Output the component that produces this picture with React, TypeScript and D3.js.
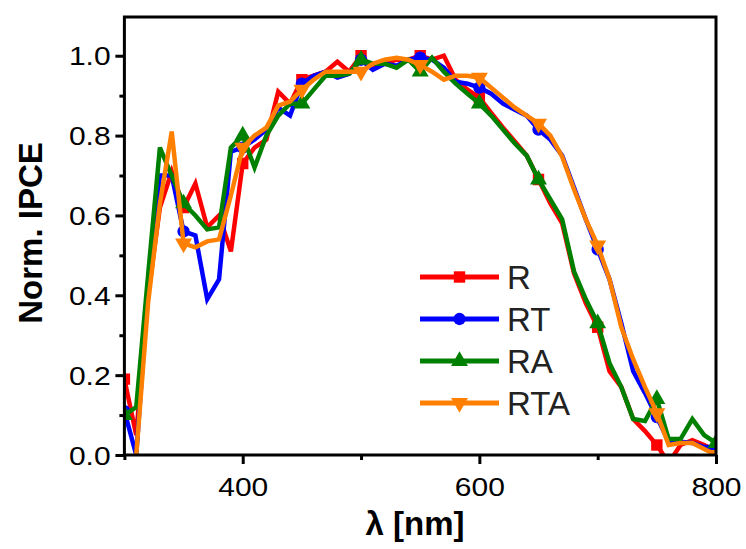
import React, { useRef, useEffect } from "react";
import * as d3 from "d3";

// wavelength grid (nm)
const lambda = [
  300, 310, 320, 330, 340, 350, 360, 370, 380, 390, 400, 410, 420, 430, 440, 450, 460,
  470, 480, 490, 500, 510, 520, 530, 540, 550, 560, 570, 580, 590, 600, 610, 620, 630,
  640, 650, 660, 670, 680, 690, 700, 710, 720, 730, 740, 750, 760, 770, 780, 790, 800,
];

const ipceR = [
  0.19, 0.05, 0.4, 0.62, 0.71, 0.62, 0.68, 0.57, 0.6, 0.51, 0.73, 0.77, 0.79, 0.91, 0.88,
  0.94, 0.95, 0.96, 0.985, 0.96, 1.0, 0.97, 0.98, 0.99, 0.99, 1.0, 0.99, 1.0, 0.94, 0.915,
  0.895, 0.857, 0.82, 0.785, 0.75, 0.69, 0.63, 0.58, 0.455, 0.38, 0.32, 0.21, 0.17, 0.09,
  0.06, 0.025, -0.02, 0.025, 0.037, 0.025, 0.01,
];

const ipceRT = [
  0.11, 0.0, 0.42, 0.7, 0.7, 0.56, 0.55, 0.39, 0.44, 0.76, 0.77, 0.79, 0.815, 0.87, 0.85,
  0.93, 0.95, 0.96, 0.945, 0.955, 0.99, 0.965, 0.98, 0.975, 0.99, 0.995, 0.99, 0.97, 0.935,
  0.93, 0.92, 0.905, 0.88, 0.865, 0.85, 0.815, 0.79, 0.75, 0.67, 0.59, 0.515, 0.44, 0.33,
  0.21, 0.155, 0.095, 0.033, 0.033, 0.03, 0.02, 0.02,
];

const ipceRA = [
  0.1, 0.12, 0.45, 0.77, 0.7, 0.63, 0.6, 0.565, 0.57, 0.77, 0.8, 0.72, 0.8, 0.85, 0.88,
  0.88, 0.915, 0.95, 0.95, 0.955, 0.99, 0.98, 0.98, 0.97, 0.99, 0.96, 0.995, 0.96, 0.93,
  0.905, 0.88, 0.85, 0.815, 0.78, 0.75, 0.69, 0.64, 0.59, 0.46, 0.39, 0.33, 0.23, 0.17,
  0.09, 0.085, 0.14, 0.04, 0.04, 0.09, 0.05, 0.03,
];

// RTA has no point at 300 nm
const ipceRTA = [
  null, 0.0, 0.38, 0.63, 0.81, 0.53, 0.52, 0.535, 0.54, 0.65, 0.77, 0.8, 0.82, 0.875, 0.885,
  0.915, 0.94, 0.96, 0.96, 0.96, 0.96, 0.98, 0.99, 0.995, 0.99, 0.977, 0.96, 0.94, 0.95,
  0.95, 0.945, 0.92, 0.895, 0.87, 0.85, 0.83, 0.8, 0.747, 0.665, 0.59, 0.525, 0.44, 0.32,
  0.24, 0.17, 0.105, 0.025, 0.03, 0.03, 0.015, 0.0,
];

const seriesNames = ["R", "RT", "RA", "RTA"];
const seriesValues = [ipceR, ipceRT, ipceRA, ipceRTA];
const seriesColors = ["#ff0000", "#0000ff", "#008000", "#ff8000"];

const xMajorTicks = [400, 600, 800];
const xMinorTicks = [300, 500, 700];
const yMajorTicks = [0, 0.2, 0.4, 0.6, 0.8, 1.0];
const yMinorTicks = [0.1, 0.3, 0.5, 0.7, 0.9];

const FONT = "'Liberation Sans', Arial, sans-serif";

function symbolFor(i: number) {
  if (i === 0) return d3.symbol().type(d3.symbolSquare).size(130);
  if (i === 1) return d3.symbol().type(d3.symbolCircle).size(120);
  return d3.symbol().type(d3.symbolTriangle).size(125);
}

function IpceChart() {
  const ref = useRef<SVGSVGElement>(null);

  useEffect(() => {
    const svg = d3.select(ref.current);
    svg.selectAll("*").remove();

    const left = 124.4,
      right = 716,
      top = 17,
      bottom = 455;

    const x = d3.scaleLinear().domain([300, 800]).range([left, right]);
    const y = d3.scaleLinear().domain([0, 1.097]).range([bottom, top]);

    svg
      .append("defs")
      .append("clipPath")
      .attr("id", "plot-clip")
      .append("rect")
      .attr("x", left)
      .attr("y", top)
      .attr("width", right - left)
      .attr("height", bottom - top);

    const plot = svg.append("g").attr("clip-path", "url(#plot-clip)");

    seriesValues.forEach((vals, si) => {
      const pts = lambda.map((l, i) => ({ l, v: vals[i] }));
      const line = d3
        .line<{ l: number; v: number | null }>()
        .defined((d) => d.v !== null)
        .x((d) => x(d.l))
        .y((d) => y(d.v as number));

      plot
        .append("path")
        .datum(pts)
        .attr("d", line)
        .attr("fill", "none")
        .attr("stroke", seriesColors[si])
        .attr("stroke-width", 4.5)
        .attr("stroke-linejoin", "miter");

      plot
        .selectAll(null)
        .data(pts.filter((d, i) => i % 5 === 0 && d.v !== null))
        .enter()
        .append("path")
        .attr("d", symbolFor(si))
        .attr(
          "transform",
          (d) =>
            `translate(${x(d.l)},${y(d.v as number)})` + (si === 3 ? " rotate(180)" : "")
        )
        .attr("fill", seriesColors[si]);
    });

    // frame
    svg
      .append("rect")
      .attr("x", left)
      .attr("y", top)
      .attr("width", right - left)
      .attr("height", bottom - top)
      .attr("fill", "none")
      .attr("stroke", "#000")
      .attr("stroke-width", 3);

    // x axis
    const xAxis = svg.append("g").attr("transform", `translate(0,${bottom})`);
    xAxis
      .call(d3.axisBottom(x).tickValues(xMajorTicks).tickSize(9).tickFormat(d3.format("d")))
      .call((g) => g.select(".domain").remove());
    xAxis
      .append("g")
      .call(d3.axisBottom(x).tickValues(xMinorTicks).tickSize(5).tickFormat(() => ""))
      .call((g) => g.select(".domain").remove());
    xAxis.selectAll("line").attr("stroke", "#000").attr("stroke-width", 3);
    xAxis
      .selectAll("text")
      .attr("y", 41)
      .attr("dy", 0)
      .attr("fill", "#000")
      .attr("transform", "scale(1.2,1)")
      .style("font-family", FONT)
      .style("font-size", "25px");

    // y axis
    const yAxis = svg.append("g").attr("transform", `translate(${left},0)`);
    yAxis
      .call(d3.axisLeft(y).tickValues(yMajorTicks).tickSize(9).tickFormat(d3.format(".1f")))
      .call((g) => g.select(".domain").remove());
    yAxis
      .append("g")
      .call(d3.axisLeft(y).tickValues(yMinorTicks).tickSize(5).tickFormat(() => ""))
      .call((g) => g.select(".domain").remove());
    yAxis.selectAll("line").attr("stroke", "#000").attr("stroke-width", 3);
    yAxis
      .selectAll("text")
      .attr("x", -11.5)
      .attr("dy", "0.36em")
      .attr("fill", "#000")
      .attr("transform", "scale(1.2,1)")
      .style("font-family", FONT)
      .style("font-size", "25px");

    // axis titles
    svg
      .append("text")
      .attr("x", 415)
      .attr("y", 535)
      .attr("text-anchor", "middle")
      .style("font-family", FONT)
      .style("font-weight", "bold")
      .style("font-size", "33px")
      .text("λ [nm]");

    svg
      .append("text")
      .attr("transform", "translate(42,233) rotate(-90)")
      .attr("text-anchor", "middle")
      .style("font-family", FONT)
      .style("font-weight", "bold")
      .style("font-size", "33px")
      .text("Norm. IPCE");

    // legend
    const legend = svg.append("g");
    const rowY = [277, 319, 361, 403];
    seriesNames.forEach((name, si) => {
      const row = legend.append("g").attr("transform", `translate(420,${rowY[si]})`);
      row
        .append("line")
        .attr("x1", 0)
        .attr("x2", 79)
        .attr("stroke", seriesColors[si])
        .attr("stroke-width", 5);
      row
        .append("path")
        .attr("d", symbolFor(si))
        .attr("transform", `translate(39.5,0)` + (si === 3 ? " rotate(180)" : ""))
        .attr("fill", seriesColors[si]);
      row
        .append("text")
        .attr("x", 87)
        .attr("y", 12)
        .attr("fill", "#222")
        .style("font-family", FONT)
        .style("font-size", "33px")
        .text(name);
    });
  }, []);

  return (
    <svg
      ref={ref}
      width={746}
      height={549}
      style={{ position: "absolute", left: 0, top: 0, background: "#fff" }}
    />
  );
}

export default function App() {
  return <IpceChart />;
}
